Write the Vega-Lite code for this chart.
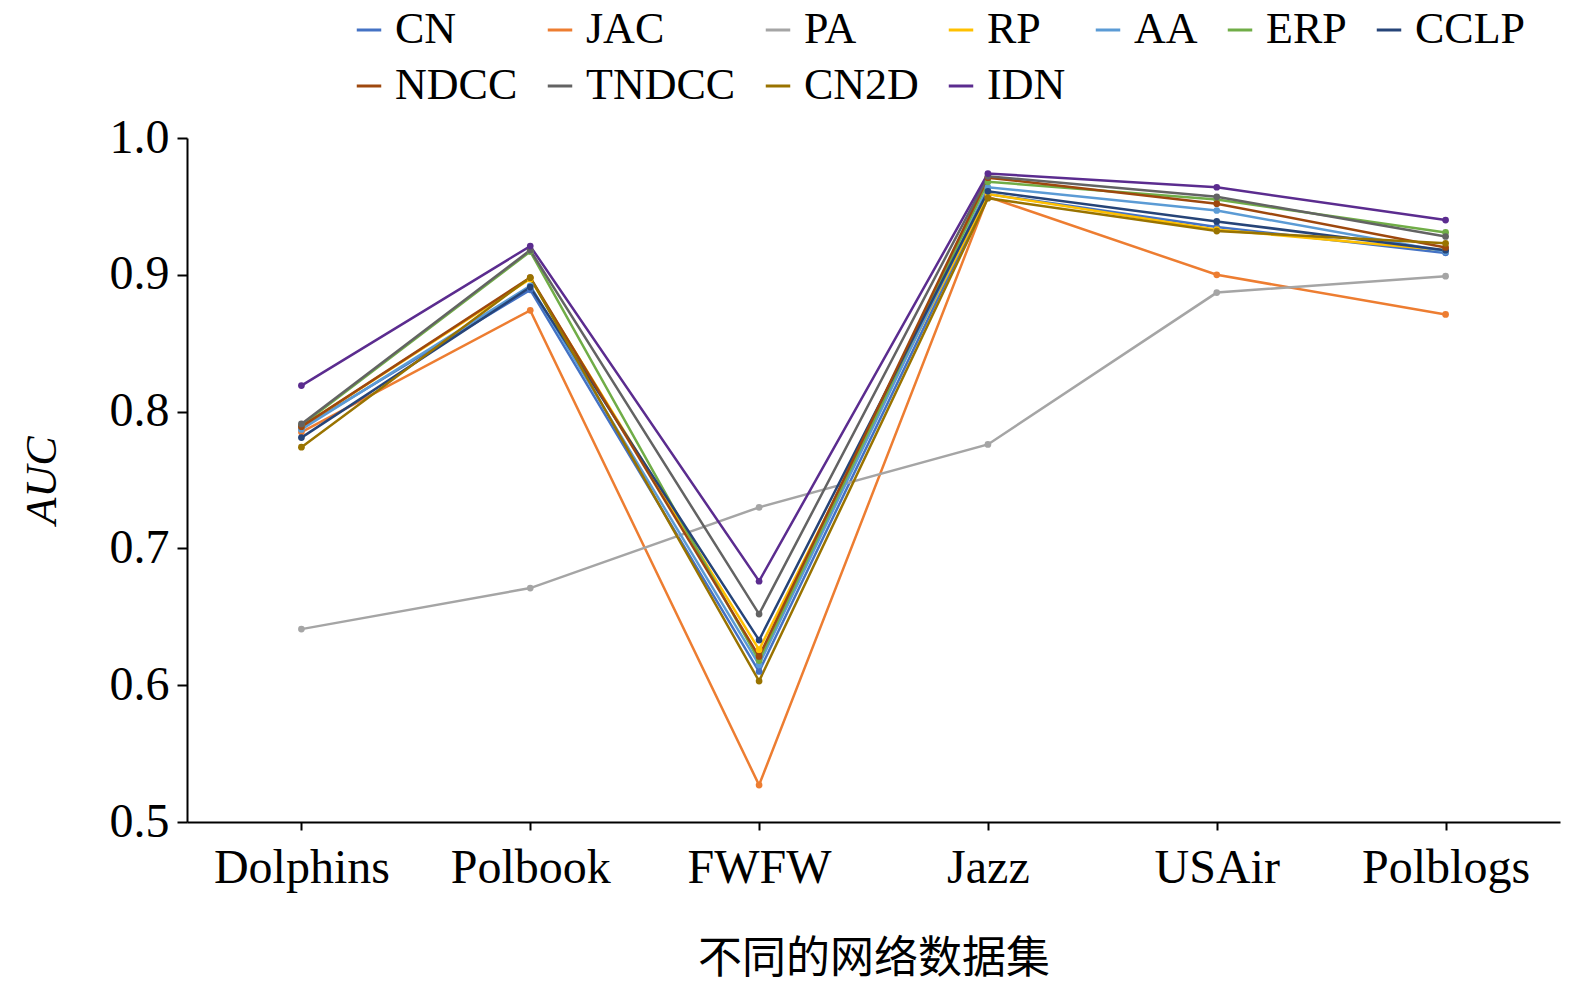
{
  "$schema": "https://vega.github.io/schema/vega-lite/v6.json",
  "width": 1373,
  "height": 684,
  "autosize": "none",
  "padding": {"left": 187, "top": 138, "right": 15, "bottom": 180},
  "background": "white",
  "config": {"view": {"stroke": null}, "font": "Liberation Serif"},
  "data": {"values": [
    {"m":"CN","d":"Dolphins","v":0.788},{"m":"CN","d":"Polbook","v":0.889},{"m":"CN","d":"FWFW","v":0.610},{"m":"CN","d":"Jazz","v":0.959},{"m":"CN","d":"USAir","v":0.935},{"m":"CN","d":"Polblogs","v":0.916},
    {"m":"JAC","d":"Dolphins","v":0.785},{"m":"JAC","d":"Polbook","v":0.874},{"m":"JAC","d":"FWFW","v":0.527},{"m":"JAC","d":"Jazz","v":0.957},{"m":"JAC","d":"USAir","v":0.900},{"m":"JAC","d":"Polblogs","v":0.871},
    {"m":"PA","d":"Dolphins","v":0.641},{"m":"PA","d":"Polbook","v":0.671},{"m":"PA","d":"FWFW","v":0.730},{"m":"PA","d":"Jazz","v":0.776},{"m":"PA","d":"USAir","v":0.887},{"m":"PA","d":"Polblogs","v":0.899},
    {"m":"RP","d":"Dolphins","v":0.789},{"m":"RP","d":"Polbook","v":0.897},{"m":"RP","d":"FWFW","v":0.626},{"m":"RP","d":"Jazz","v":0.959},{"m":"RP","d":"USAir","v":0.933},{"m":"RP","d":"Polblogs","v":0.918},
    {"m":"AA","d":"Dolphins","v":0.787},{"m":"AA","d":"Polbook","v":0.892},{"m":"AA","d":"FWFW","v":0.615},{"m":"AA","d":"Jazz","v":0.964},{"m":"AA","d":"USAir","v":0.947},{"m":"AA","d":"Polblogs","v":0.917},
    {"m":"ERP","d":"Dolphins","v":0.790},{"m":"ERP","d":"Polbook","v":0.917},{"m":"ERP","d":"FWFW","v":0.618},{"m":"ERP","d":"Jazz","v":0.968},{"m":"ERP","d":"USAir","v":0.955},{"m":"ERP","d":"Polblogs","v":0.931},
    {"m":"CCLP","d":"Dolphins","v":0.781},{"m":"CCLP","d":"Polbook","v":0.891},{"m":"CCLP","d":"FWFW","v":0.633},{"m":"CCLP","d":"Jazz","v":0.961},{"m":"CCLP","d":"USAir","v":0.939},{"m":"CCLP","d":"Polblogs","v":0.918},
    {"m":"NDCC","d":"Dolphins","v":0.789},{"m":"NDCC","d":"Polbook","v":0.898},{"m":"NDCC","d":"FWFW","v":0.621},{"m":"NDCC","d":"Jazz","v":0.971},{"m":"NDCC","d":"USAir","v":0.952},{"m":"NDCC","d":"Polblogs","v":0.920},
    {"m":"TNDCC","d":"Dolphins","v":0.791},{"m":"TNDCC","d":"Polbook","v":0.918},{"m":"TNDCC","d":"FWFW","v":0.652},{"m":"TNDCC","d":"Jazz","v":0.972},{"m":"TNDCC","d":"USAir","v":0.957},{"m":"TNDCC","d":"Polblogs","v":0.928},
    {"m":"CN2D","d":"Dolphins","v":0.774},{"m":"CN2D","d":"Polbook","v":0.898},{"m":"CN2D","d":"FWFW","v":0.603},{"m":"CN2D","d":"Jazz","v":0.956},{"m":"CN2D","d":"USAir","v":0.932},{"m":"CN2D","d":"Polblogs","v":0.923},
    {"m":"IDN","d":"Dolphins","v":0.819},{"m":"IDN","d":"Polbook","v":0.921},{"m":"IDN","d":"FWFW","v":0.676},{"m":"IDN","d":"Jazz","v":0.974},{"m":"IDN","d":"USAir","v":0.964},{"m":"IDN","d":"Polblogs","v":0.940}
  ]},
  "mark": {"type": "line", "strokeWidth": 2.5, "point": {"size": 45, "filled": true}},
  "encoding": {
    "x": {"field": "d", "type": "nominal", "sort": ["Dolphins","Polbook","FWFW","Jazz","USAir","Polblogs"],
      "scale": {"type": "point", "padding": 0.5},
      "axis": {"title": "不同的网络数据集", "titleFont": "Noto Sans CJK SC", "titleFontSize": 44, "titleFontWeight": "normal", "titleColor": "black", "titlePadding": 45,
        "labelAngle": 0, "labelFontSize": 48, "labelColor": "black", "labelPadding": 14, "domainColor": "black", "domainWidth": 2, "tickColor": "black", "tickWidth": 2, "tickSize": 8}},
    "y": {"field": "v", "type": "quantitative", "scale": {"domain": [0.5, 1.0]},
      "axis": {"title": "AUC", "titleFontStyle": "italic", "titleFontWeight": "normal", "titleFontSize": 44, "titleColor": "black", "titlePadding": 45,
        "values": [0.5,0.6,0.7,0.8,0.9,1.0], "format": ".1f", "grid": false, "labelFontSize": 48, "labelColor": "black", "labelPadding": 8, "domainColor": "black", "domainWidth": 2, "tickColor": "black", "tickWidth": 2, "tickSize": 10}},
    "color": {"field": "m", "type": "nominal", "sort": ["CN","JAC","PA","RP","AA","ERP","CCLP","NDCC","TNDCC","CN2D","IDN"],
      "scale": {"domain": ["CN","JAC","PA","RP","AA","ERP","CCLP","NDCC","TNDCC","CN2D","IDN"],
        "range": ["#4472C4","#ED7D31","#A5A5A5","#FFC000","#5B9BD5","#70AD47","#264478","#9E480E","#636363","#997300","#5B2C8F"]},
      "legend": {"title": null, "orient": "none", "legendX": 160, "legendY": -130, "direction": "horizontal", "columns": 7, "gridAlign": "none", "labelFontSize": 44, "labelColor": "black",
        "symbolType": "stroke", "symbolStrokeWidth": 3, "symbolSize": 600, "columnPadding": 20, "rowPadding": 12, "labelLimit": 400}}
  }
}
